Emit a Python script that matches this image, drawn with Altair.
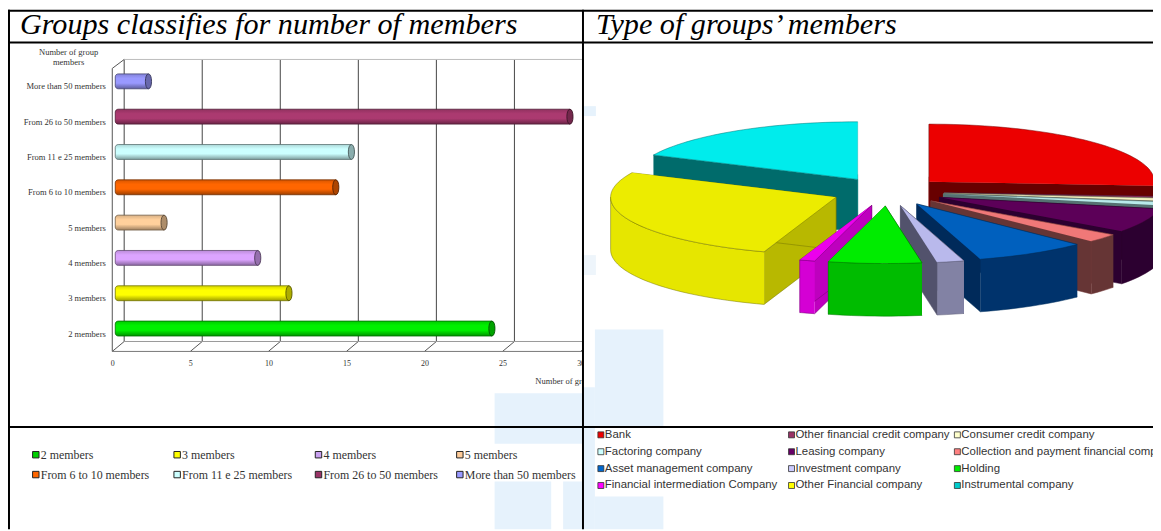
import math
import altair as alt
import pandas as pd

# ---------- data ----------
bar_categories = ["More than 50 members", "From 26 to 50 members", "From 11 e 25 members",
                  "From 6 to 10 members", "5 members", "4 members", "3 members", "2 members"]
bar_values = [2, 29, 15, 14, 3, 9, 11, 24]
bar_colors = ["#9999ff", "#ab3a70", "#ccffff", "#ff6600", "#ffd09c", "#dca4ff", "#ffff00", "#00f000"]
x_ticks = [0, 5, 10, 15, 20, 25, 30]

bar_legend_labels = ["2 members", "3 members", "4 members", "5 members",
                     "From 6 to 10 members", "From 11 e 25 members", "From 26 to 50 members", "More than 50 members"]
bar_legend_colors = ["#00d000", "#ffff00", "#c8a0f0", "#ffcc99", "#ff6600", "#ccffff", "#993366", "#9999ff"]

pie_labels = ["Bank", "Other financial credit company", "Consumer credit company", "Factoring company",
              "Leasing company", "Collection and payment financial company", "Asset management company",
              "Investment company", "Holding", "Financial intermediation Company", "Other Financial company",
              "Instrumental company"]
pie_values = [26.1, 0.3, 0.8, 1.0, 6.8, 2.4, 8.05, 1.95, 6.67, 1.1, 26.8, 18.03]
pie_top = ["#ec0000", "#993366", "#f5f0c0", "#b8eaea", "#5c0058", "#f07878", "#0060be", "#b9b9ec",
           "#00ec00", "#ec00ec", "#ecec00", "#00ecec"]
pie_wall = ["#680000", "#50202f", "#6a6a50", "#557272", "#2c0030", "#663535", "#002a5a", "#52526c",
            "#00aa00", "#be00be", "#b8b800", "#006b6b"]
pie_rim = ["#680000", "#50202f", "#8a8a60", "#6f9090", "#2c0030", "#663535", "#00336c", "#8282a4",
           "#00bc00", "#d400d4", "#e6e600", "#006b6b"]
legend_right_colors = ["#ee0000", "#993366", "#ffffcc", "#ccffff", "#660066", "#ff8080", "#0066cc", "#ccccff",
                       "#00ee00", "#ff00ff", "#ffff00", "#00cccc"]

EXPLODE = 0.25
DEPTH = 53 / 58

OX, OY = 8, 8   # page margin


def shade(hex_color, k):
    r, g, b = [int(hex_color[i:i + 2], 16) for i in (1, 3, 5)]
    return "#%02x%02x%02x" % (int(min(255, r * k)), int(min(255, g * k)), int(min(255, b * k)))


def rect(x0, x1, y0, y1, color):
    return alt.Chart(pd.DataFrame({"a": [0]})).mark_rect(color=color).encode(
        x=alt.value(x0 - OX), x2=alt.value(x1 - OX), y=alt.value(y0 - OY), y2=alt.value(y1 - OY))


def hline(x0, x1, y, color="black", w=2):
    return alt.Chart(pd.DataFrame({"a": [0]})).mark_rule(color=color, strokeWidth=w).encode(
        x=alt.value(x0 - OX), x2=alt.value(x1 - OX), y=alt.value(y - OY))


def vline(x, y0, y1, color="black", w=2):
    return alt.Chart(pd.DataFrame({"a": [0]})).mark_rule(color=color, strokeWidth=w).encode(
        x=alt.value(x - OX), y=alt.value(y0 - OY), y2=alt.value(y1 - OY))


def label(text, x, y, size, font="Liberation Serif", color="#333333", **kw):
    return alt.Chart(pd.DataFrame({"t": [text]})).mark_text(
        font=font, fontSize=size, color=color, **kw).encode(
        x=alt.value(x - OX), y=alt.value(y - OY), text="t:N")


layers = []
WM = "#e6f2fc"

# ---------- left watermark ----------
layers += [rect(498, 588, 394, 445, WM), rect(498, 555, 483, 531, WM), rect(567, 588, 483, 531, WM)]

# ---------- bar chart ----------
X_SCALE = alt.Scale(domain=[0, 30], range=[113 - OX, 113 - OX + 471.6], nice=False, zero=False)
Y_SCALE = alt.Scale(type="band", domain=bar_categories, range=[54.25 + 8 - OY, 338.75 + 8 - OY])
X_NOAX = alt.X("t:Q", scale=X_SCALE, axis=None)
ticks_df = pd.DataFrame({"t": x_ticks})

# back wall and floor
layers.append(alt.Chart(ticks_df).mark_rule(color="#555555", strokeWidth=1.1, xOffset=12).encode(
    x=X_NOAX, y=alt.value(58 - OY), y2=alt.value(342 - OY)))
layers.append(alt.Chart(ticks_df).mark_rule(color="#555555", strokeWidth=1, x2Offset=12).encode(
    x=X_NOAX, x2="t:Q", y=alt.value(352 - OY), y2=alt.value(342 - OY)))
layers.append(vline(113, 67, 352, "#555555", 1))
layers.append(hline(113, 588, 352, "#777777", 1))
layers.append(hline(125, 588, 342, "#999999", 1))
layers.append(hline(125, 588, 58, "#bbbbbb", 1))
layers.append(alt.Chart(pd.DataFrame({"a": [0]})).mark_rule(color="#555555", strokeWidth=1).encode(
    x=alt.value(113 - OX), x2=alt.value(125 - OX), y=alt.value(67 - OY), y2=alt.value(58 - OY)))

# axes (invisible bars carry them)
bars_df = pd.DataFrame({"cat": bar_categories, "value": bar_values, "zero": [0] * len(bar_values)})
layers.append(alt.Chart(bars_df).mark_bar(opacity=0).encode(
    x=alt.X("value:Q", scale=X_SCALE, axis=alt.Axis(
        values=x_ticks, title=None, domain=False, ticks=False, grid=False, labelFont="Liberation Serif",
        labelFontSize=8, labelColor="#333333", labelPadding=0, offset=-171, labelFlush=False, labelOverlap=False,
        labelAngle=0)),
    y=alt.Y("cat:N", scale=Y_SCALE, axis=alt.Axis(
        title=None, domain=False, ticks=False, grid=False, labelFont="Liberation Serif", labelFontSize=8.6,
        labelColor="#333333", labelPadding=0, offset=-98, labelOffset=5, labelLimit=200))))

# cylinders
for cat, val, col in zip(bar_categories, bar_values, bar_colors):
    one = pd.DataFrame({"cat": [cat], "value": [val], "zero": [0]})
    grad = alt.Gradient(gradient="linear", x1=0, x2=0, y1=0, y2=1, stops=[
        alt.GradientStop(offset=0, color=shade(col, 0.85)),
        alt.GradientStop(offset=0.3, color=col),
        alt.GradientStop(offset=0.62, color=col),
        alt.GradientStop(offset=1, color=shade(col, 0.62))])
    layers.append(alt.Chart(one).mark_bar(
        color=grad, stroke=shade(col, 0.45), strokeWidth=0.8, size=15, xOffset=3, x2Offset=5,
        cornerRadiusTopLeft=3, cornerRadiusBottomLeft=3).encode(
        x=alt.X("zero:Q", scale=X_SCALE, axis=None), x2="value:Q",
        y=alt.Y("cat:N", scale=Y_SCALE, axis=None)))
    layers.append(alt.Chart(one).mark_point(
        shape="M0,-1 C0.55,-1 0.55,1 0,1 C-0.55,1 -0.55,-1 0,-1 Z", size=225, filled=True, opacity=1,
        fill=shade(col, 0.68), stroke=shade(col, 0.35), strokeWidth=0.9, xOffset=5).encode(
        x=alt.X("value:Q", scale=X_SCALE, axis=None),
        y=alt.Y("cat:N", scale=Y_SCALE, axis=None)))

layers.append(label("Number of group", 69, 51, 8.6, align="center"))
layers.append(label("members", 69, 61, 8.6, align="center"))
layers.append(label("Number of groups", 539, 382, 8.6, align="left"))

# left legend
lg = pd.DataFrame({"label": bar_legend_labels, "color": bar_legend_colors,
                   "col": [0, 1, 2, 3] * 2, "row": [0] * 4 + [1] * 4})
LX = alt.X("col:Q", scale=alt.Scale(domain=[0, 3], range=[36 - OX, 463 - OX]), axis=None)
LY = alt.Y("row:Q", scale=alt.Scale(domain=[0, 1], range=[456 - OY, 476 - OY]), axis=None)
layers.append(alt.Chart(lg).mark_square(size=42, stroke="#222222", strokeWidth=1, opacity=1).encode(
    x=LX, y=LY, fill=alt.Fill("color:N", scale=None)))
layers.append(alt.Chart(lg).mark_text(font="Liberation Serif", fontSize=12, align="left", dx=5, color="#333333").encode(
    x=LX, y=LY, text="label:N"))

# ---------- right panel ----------
layers.append(rect(588, 1161, 42, 531, "white"))
layers += [rect(599, 668, 330, 428, WM), rect(588, 599, 388, 531, WM),
           rect(599, 668, 498, 531, WM), rect(588, 600, 105, 115, WM), rect(588, 600, 255, 275, "#eef5fb")]

# ---------- exploded 3D pie, projected from the values ----------
rows = []
start = 0.0
slices = []
for i, v in enumerate(pie_values):
    d = v * 3.6
    slices.append((i, start, start + d))
    start += d


def P(t_deg, ox, oy, r=1.0, drop=0.0):
    t = math.radians(t_deg)
    return ox + r * math.sin(t), oy + r * math.cos(t) - drop


pid = 0


def add(points, fill, stroke):
    global pid
    for k, (px, py) in enumerate(points):
        rows.append({"piece": pid, "k": k, "x": px, "y": py, "fill": fill, "stroke": stroke})
    pid += 1


for i, t0, t1 in sorted(slices, key=lambda s: -math.cos(math.radians((s[1] + s[2]) / 2))):
    m = (t0 + t1) / 2
    ox = EXPLODE * math.sin(math.radians(m))
    oy = EXPLODE * math.cos(math.radians(m))
    top, wall, rim = pie_top[i], pie_wall[i], pie_rim[i]
    edge = shade(top, 0.5)
    steps = max(2, int((t1 - t0) / 2))
    arc = [P(t0 + (t1 - t0) * s / steps, ox, oy) for s in range(steps + 1)]
    apex = (ox, oy)
    for t in (t0, t1):
        a, b = P(t, ox, oy), apex
        add([a, b, (b[0], b[1] - DEPTH), (a[0], a[1] - DEPTH)], wall, edge)
    r0, r1 = max(t0, 90), min(t1, 270)
    if r1 > r0:
        n = max(2, int((r1 - r0) / 2))
        ring = [P(r0 + (r1 - r0) * s / n, ox, oy) for s in range(n + 1)]
        add(ring + [(q[0], q[1] - DEPTH) for q in reversed(ring)], rim, edge)
    add([apex] + arc, top, edge)

pie_df = pd.DataFrame(rows)
layers.append(alt.Chart(pie_df).mark_line(strokeWidth=0.5, interpolate="linear", opacity=1).encode(
    x=alt.X("x:Q", scale=alt.Scale(domain=[-1, 1], range=[894 - 227 - OX, 894 + 227 - OX], nice=False, zero=False), axis=None),
    y=alt.Y("y:Q", scale=alt.Scale(domain=[-1, 1], range=[191 + 58 - OY, 191 - 58 - OY], nice=False, zero=False), axis=None),
    detail="piece:N", order="k:Q",
    fill=alt.Fill("fill:N", scale=None), stroke=alt.Stroke("stroke:N", scale=None)))

# right legend
order_rows = [(0, 0), (0, 1), (0, 2), (1, 0), (1, 1), (1, 2), (2, 0), (2, 1), (2, 2), (3, 0), (3, 1), (3, 2)]
rg = pd.DataFrame({"label": pie_labels, "color": legend_right_colors,
                   "row": [r for r, c in order_rows], "col": [c for r, c in order_rows]})
RY = alt.Y("row:Q", scale=alt.Scale(domain=[0, 3], range=[436 - OY, 487 - OY]), axis=None)
RX = alt.X("col:Q", scale=alt.Scale(domain=[0, 1, 2], range=[605 - OX, 797 - OX, 964 - OX]), axis=None)
layers.append(alt.Chart(rg).mark_square(size=36, stroke="#333333", strokeWidth=0.8, opacity=1).encode(
    x=RX, y=RY, fill=alt.Fill("color:N", scale=None)))
layers.append(alt.Chart(rg).mark_text(font="Liberation Sans", fontSize=11.5, align="left", dx=4, color="#333333").encode(
    x=RX, y=RY, text="label:N"))

# ---------- headers & table ----------
layers.append(label("Groups classifies for number of members", 20, 23, 30.4, color="black", align="left", fontStyle="italic"))
layers.append(label("Type of groups\u2019 members", 600, 23, 30.4, color="black", align="left", fontStyle="italic"))
layers += [hline(8, 1161, 41), hline(8, 1161, 428), vline(587, 8, 531), vline(9, 8, 531), hline(8, 1161, 9)]

chart = alt.layer(*layers).resolve_scale(x="independent", y="independent").properties(
    width=1153, height=523, padding=0, autosize="none", background="white"
).configure_view(stroke=None)

chart.save("out.html", embed_options={"renderer": "svg", "actions": False})
